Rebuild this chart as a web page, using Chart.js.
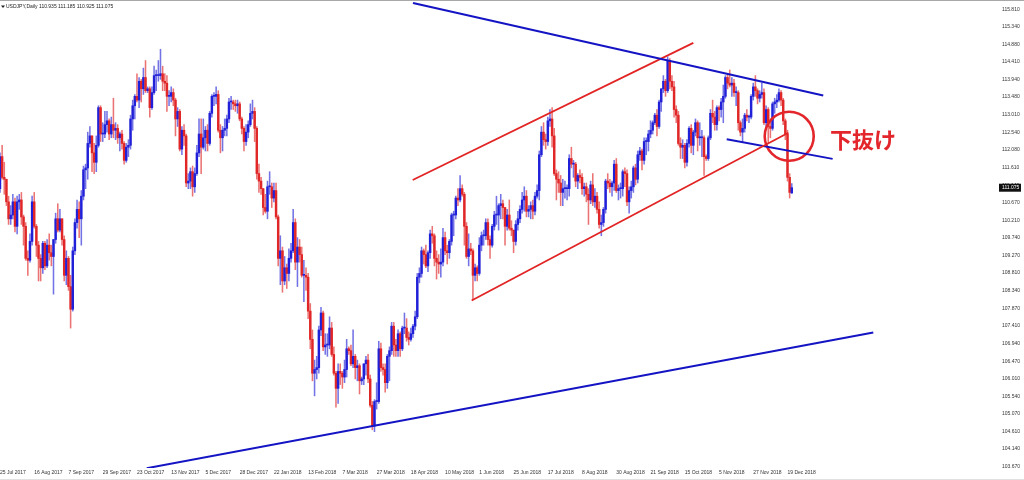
<!DOCTYPE html>
<html>
<head>
<meta charset="utf-8">
<script src="https://cdn.jsdelivr.net/npm/chart.js@4.4.1/dist/chart.umd.min.js"></script>
<style>
  html, body { margin: 0; padding: 0; background: #ffffff; overflow: hidden; }
  canvas { display: block; }
</style>
</head>
<body>
<canvas id="c" width="1024" height="480"></canvas>
<script>
// ---------- DATA (USDJPY daily) ----------
const symbolTitle = 'USDJPY,Daily';
const tickLabels = ['25 Jul 2017','16 Aug 2017','7 Sep 2017','29 Sep 2017','23 Oct 2017','13 Nov 2017','5 Dec 2017','28 Dec 2017','22 Jan 2018','13 Feb 2018','7 Mar 2018','27 Mar 2018','18 Apr 2018','10 May 2018','1 Jun 2018','25 Jun 2018','17 Jul 2018','8 Aug 2018','30 Aug 2018','21 Sep 2018','15 Oct 2018','5 Nov 2018','27 Nov 2018','19 Dec 2018'];
const barsPerLabel = 16;
const priceTicks = [115.810,115.340,114.880,114.410,113.940,113.480,113.010,112.540,112.080,111.610,111.140,110.670,110.210,109.740,109.270,108.810,108.340,107.870,107.410,106.940,106.470,106.010,105.540,105.070,104.610,104.140,103.670];

const opens = [
111.05,111.90,111.35,111.30,110.70,110.25,110.35,110.70,110.05,110.70,
110.75,110.30,110.05,109.20,109.15,109.65,110.70,110.05,109.55,109.20,
108.95,109.60,109.00,109.55,109.35,109.25,109.70,110.25,109.95,110.25,
109.70,108.75,109.20,108.45,107.85,109.40,110.15,110.50,110.25,110.85,
111.55,111.60,112.25,112.45,112.00,111.75,112.20,113.20,112.50,112.50,
112.75,112.85,112.50,112.75,112.60,112.65,112.40,112.50,112.25,111.80,
112.15,112.20,112.90,113.25,113.50,113.40,113.90,113.70,114.00,113.65,
113.70,113.20,113.60,114.05,114.05,114.05,114.10,113.90,113.85,113.50,
113.50,113.60,113.40,112.90,113.10,112.10,112.60,112.45,111.20,111.25,
111.50,111.10,111.45,112.00,112.50,112.15,112.40,112.60,112.25,113.05,
113.50,113.50,113.55,112.60,112.40,112.60,112.65,112.90,113.35,113.35,
113.30,113.25,113.30,112.90,112.65,112.30,112.55,112.75,113.05,113.10,
112.65,111.45,111.25,111.05,110.55,110.45,111.10,111.10,110.80,111.00,
110.30,109.20,109.40,108.60,108.95,108.80,109.20,109.40,110.15,109.10,
109.50,109.30,108.75,108.75,108.70,107.80,107.05,106.15,106.25,106.30,
107.30,107.75,106.85,106.90,106.90,107.35,106.65,106.15,105.75,106.20,
106.15,106.05,106.25,106.80,106.75,106.40,106.60,106.30,106.35,105.95,
106.00,106.40,106.50,106.00,105.30,104.75,105.40,105.40,106.80,106.30,
106.25,105.90,106.60,106.75,107.40,106.90,106.75,107.20,106.80,107.35,
107.35,107.10,107.05,107.20,107.40,107.65,108.70,108.80,109.40,109.30,
109.00,109.35,109.85,109.80,109.20,109.10,109.05,109.10,109.75,109.40,
109.35,109.65,110.35,110.35,110.80,110.75,111.05,110.90,110.05,109.25,
109.45,109.40,108.75,108.95,108.80,109.55,109.80,109.80,110.15,109.70,
109.55,110.05,110.35,110.35,110.60,110.65,110.55,110.05,110.35,110.00,
109.95,109.65,110.10,110.25,110.50,110.75,110.85,110.45,110.50,110.60,
110.45,110.85,111.00,111.95,112.55,112.35,112.30,112.85,112.90,112.45,
111.45,111.30,111.20,110.95,111.05,111.05,111.05,111.85,111.70,111.70,
111.25,111.40,111.35,111.05,111.10,110.90,110.75,111.15,110.70,110.85,
110.50,110.10,110.15,110.50,111.25,111.20,111.10,111.20,111.70,111.00,
111.05,111.05,111.50,111.45,110.70,111.00,111.10,111.60,111.30,111.95,
112.05,111.80,112.30,112.30,112.50,112.60,112.80,113.00,112.70,113.35,
113.70,113.90,113.65,114.45,113.90,113.75,113.15,113.00,112.25,112.15,
112.20,111.75,112.25,112.65,112.20,112.55,112.80,112.40,112.40,112.40,
111.90,111.85,112.40,113.05,112.95,112.75,113.20,113.15,113.35,113.50,
114.00,113.85,113.80,113.85,113.60,113.60,112.80,112.55,112.65,113.00,
112.95,112.95,113.50,113.75,113.65,113.45,113.55,113.60,112.80,113.15,
112.70,112.65,113.30,113.35,113.40,113.60,113.40,112.85,112.50,111.35,
110.935];

const highs = [
112.00,112.20,111.75,111.30,110.85,110.60,110.90,110.80,110.85,110.90,
110.95,110.35,110.15,109.40,109.85,110.85,110.95,110.10,109.65,109.30,
109.65,109.65,109.70,109.85,109.55,109.70,110.40,110.65,110.50,110.25,
109.80,109.40,109.25,108.75,109.50,110.25,110.75,110.70,111.00,111.65,
111.70,112.55,112.70,112.45,112.25,112.45,113.25,113.25,112.80,113.10,
113.10,112.90,112.95,113.45,112.80,112.75,112.55,112.60,112.30,112.25,
112.35,113.00,113.40,113.55,114.10,114.00,113.95,114.25,114.45,113.75,
113.75,113.75,114.30,114.20,114.45,114.75,114.30,114.10,114.05,113.65,
113.75,113.70,113.45,113.20,113.15,112.70,112.75,112.50,111.45,111.60,
111.65,111.60,112.20,112.90,112.90,112.90,112.70,112.75,113.10,113.55,
113.60,113.75,113.65,112.75,112.70,112.90,113.00,113.45,113.50,113.40,
113.40,113.40,113.35,112.95,112.70,112.75,112.85,113.30,113.40,113.20,
112.70,111.70,111.35,111.05,110.90,111.25,111.50,111.20,111.20,111.20,
110.35,109.80,109.50,109.25,109.05,109.45,109.60,110.50,110.25,109.75,
109.70,109.50,109.15,108.95,108.80,108.00,107.30,106.50,106.60,107.40,
107.90,107.80,107.20,107.20,107.65,107.50,106.85,106.20,106.40,106.40,
106.20,106.50,107.05,106.85,106.90,107.30,106.65,106.50,106.40,106.05,
106.40,106.60,106.65,106.10,105.40,105.45,105.90,107.00,106.95,106.40,
106.40,106.65,106.85,107.50,107.50,107.05,107.30,107.25,107.40,107.75,
107.60,107.25,107.35,107.45,107.80,108.80,108.95,109.50,109.45,109.55,
109.40,109.95,110.05,109.85,109.40,109.30,109.45,110.00,109.90,109.55,
109.70,110.40,110.45,110.85,111.05,111.40,111.15,110.95,110.15,109.85,
109.60,109.45,109.05,109.00,109.75,109.90,109.95,110.25,110.25,109.80,
110.10,110.45,110.85,110.65,110.90,110.75,110.55,110.50,110.75,110.20,
109.95,110.20,110.45,110.60,110.95,111.10,111.00,110.60,110.70,110.75,
110.95,111.15,112.05,112.70,112.80,112.50,112.95,113.15,113.20,112.65,
111.55,111.50,111.40,111.30,111.25,111.15,111.95,112.15,111.80,111.75,
111.45,111.55,111.45,111.20,111.20,111.05,111.25,111.45,111.05,110.95,
110.70,110.35,110.55,111.30,111.45,111.30,111.25,111.80,111.85,111.15,
111.20,111.55,111.60,111.55,111.10,111.25,111.65,111.70,112.05,112.15,
112.10,112.40,112.40,112.60,112.85,112.85,113.05,113.15,113.40,113.70,
114.05,113.95,114.55,114.50,114.05,113.90,113.25,113.10,112.40,112.35,
112.25,112.35,112.70,112.75,112.60,112.90,112.85,112.80,112.60,112.45,
111.95,112.45,113.15,113.40,113.10,113.25,113.25,113.45,113.80,114.05,
114.10,114.20,114.00,113.95,113.75,113.65,112.85,112.90,113.05,113.15,
113.00,113.55,113.85,114.05,113.70,113.65,113.85,113.70,113.25,113.20,
112.90,113.35,113.45,113.55,113.70,113.65,113.45,112.90,112.60,111.45,
111.185];

const lows = [
110.95,111.30,110.90,110.60,110.10,110.10,110.25,109.90,109.85,110.50,
110.10,109.55,109.15,108.75,109.10,109.55,110.00,109.25,108.60,108.60,
108.80,108.90,108.95,109.15,109.00,108.25,109.60,109.90,109.90,109.55,
108.60,108.50,108.35,107.35,107.80,109.30,110.00,109.75,109.55,110.75,
111.05,111.30,112.15,111.50,111.45,111.50,112.15,112.30,112.30,112.40,
112.55,112.35,112.40,112.40,112.35,112.25,112.05,112.10,111.70,111.75,
111.90,112.10,112.60,112.90,113.35,113.20,113.35,113.55,113.60,113.60,
112.95,113.15,113.55,113.65,113.90,113.95,113.65,113.65,113.10,113.25,
113.35,113.25,112.45,112.70,112.05,111.95,112.20,111.10,111.05,111.05,
110.85,110.95,111.40,111.90,111.45,112.10,112.05,112.05,112.20,112.95,
113.25,113.30,112.55,112.00,112.05,112.45,112.45,112.80,113.15,113.15,
113.10,113.05,112.85,112.50,112.05,112.20,112.40,112.70,112.90,112.30,
111.30,110.95,110.90,110.35,110.40,110.25,110.90,110.55,110.70,110.25,
109.00,108.50,108.30,108.50,108.40,108.60,109.10,109.35,108.90,108.45,
109.10,108.70,108.05,108.35,107.60,106.80,105.95,105.55,106.00,106.15,
107.15,106.75,106.65,106.60,106.80,106.60,106.10,105.25,105.35,105.85,
105.75,105.90,106.05,106.65,106.35,106.30,106.00,105.95,105.60,105.85,
105.85,106.10,105.90,105.25,104.65,104.60,105.20,105.35,106.20,106.10,
105.65,105.75,105.95,106.65,106.60,106.60,106.60,106.60,106.75,107.20,
107.00,106.90,107.00,107.10,107.30,107.60,108.55,108.70,109.05,108.95,
108.85,109.20,109.60,109.00,108.65,108.80,108.70,109.00,109.30,109.05,
109.20,109.55,109.80,110.25,110.60,110.70,110.85,109.55,109.20,109.00,
109.30,108.10,108.60,108.60,108.75,109.40,109.55,109.70,109.55,109.20,
109.50,109.95,110.10,109.95,110.25,110.25,109.55,109.95,109.95,109.80,
109.35,109.55,109.95,110.15,110.40,110.45,110.30,110.30,110.25,110.25,
110.35,110.80,110.75,111.90,112.20,112.10,112.20,112.70,112.15,111.40,
110.75,110.95,110.60,110.60,110.80,110.75,110.85,111.60,111.35,111.10,
111.05,111.20,110.90,110.85,110.70,110.10,110.65,110.60,110.55,110.40,
110.00,109.80,110.05,110.40,111.05,110.95,110.85,111.00,110.95,110.75,
110.80,110.85,111.10,110.60,110.40,110.80,110.95,111.15,111.20,111.80,
111.55,111.70,111.95,112.05,112.40,112.50,112.75,112.45,112.65,113.10,
113.60,113.50,113.60,113.70,113.65,112.95,112.80,112.20,111.85,111.85,
111.60,111.65,112.15,112.00,111.95,112.45,112.05,112.20,111.90,111.40,
111.80,111.80,112.35,112.80,112.60,112.60,112.85,112.95,112.80,113.45,
113.70,113.75,113.50,113.50,113.25,112.60,112.45,112.30,112.55,112.85,
112.80,112.90,113.40,113.50,113.30,113.35,113.45,112.75,112.70,112.25,
112.40,112.60,113.05,113.20,113.35,113.25,112.75,112.35,111.25,110.80,
110.925];

const closes = [
111.90,111.35,111.30,110.70,110.25,110.35,110.70,110.05,110.70,110.75,
110.30,110.05,109.20,109.15,109.65,110.70,110.05,109.55,109.20,108.95,
109.60,109.00,109.55,109.35,109.25,109.70,110.25,109.95,110.25,109.70,
108.75,109.20,108.45,107.85,109.40,110.15,110.50,110.25,110.85,111.55,
111.60,112.25,112.45,112.00,111.75,112.20,113.20,112.50,112.50,112.75,
112.85,112.50,112.75,112.60,112.65,112.40,112.50,112.25,111.80,112.15,
112.20,112.90,113.25,113.50,113.40,113.90,113.70,114.00,113.65,113.70,
113.20,113.60,114.05,114.05,114.05,114.10,113.90,113.85,113.50,113.50,
113.60,113.40,112.90,113.10,112.10,112.60,112.45,111.20,111.25,111.50,
111.10,111.45,112.00,112.50,112.15,112.40,112.60,112.25,113.05,113.50,
113.50,113.55,112.60,112.40,112.60,112.65,112.90,113.35,113.35,113.30,
113.25,113.30,112.90,112.65,112.30,112.55,112.75,113.05,113.10,112.65,
111.45,111.25,111.05,110.55,110.45,111.10,111.10,110.80,111.00,110.30,
109.20,109.40,108.60,108.95,108.80,109.20,109.40,110.15,109.10,109.50,
109.30,108.75,108.75,108.70,107.80,107.05,106.15,106.25,106.30,107.30,
107.75,106.85,106.90,106.90,107.35,106.65,106.15,105.75,106.20,106.15,
106.05,106.25,106.80,106.75,106.40,106.60,106.30,106.35,105.95,106.00,
106.40,106.50,106.00,105.30,104.75,105.40,105.40,106.80,106.30,106.25,
105.90,106.60,106.75,107.40,106.90,106.75,107.20,106.80,107.35,107.35,
107.10,107.05,107.20,107.40,107.65,108.70,108.80,109.40,109.30,109.00,
109.35,109.85,109.80,109.20,109.10,109.05,109.10,109.75,109.40,109.35,
109.65,110.35,110.35,110.80,110.75,111.05,110.90,110.05,109.25,109.45,
109.40,108.75,108.95,108.80,109.55,109.80,109.80,110.15,109.70,109.55,
110.05,110.35,110.35,110.60,110.65,110.55,110.05,110.35,110.00,109.95,
109.65,110.10,110.25,110.50,110.75,110.85,110.45,110.50,110.60,110.45,
110.85,111.00,111.95,112.55,112.35,112.30,112.85,112.90,112.45,111.45,
111.30,111.20,110.95,111.05,111.05,111.05,111.85,111.70,111.70,111.25,
111.40,111.35,111.05,111.10,110.90,110.75,111.15,110.70,110.85,110.50,
110.10,110.15,110.50,111.25,111.20,111.10,111.20,111.70,111.00,111.05,
111.05,111.50,111.45,110.70,111.00,111.10,111.60,111.30,111.95,112.05,
111.80,112.30,112.30,112.50,112.60,112.80,113.00,112.70,113.35,113.70,
113.90,113.65,114.45,113.90,113.75,113.15,113.00,112.25,112.15,112.20,
111.75,112.25,112.65,112.20,112.55,112.80,112.40,112.40,112.40,111.90,
111.85,112.40,113.05,112.95,112.75,113.20,113.15,113.35,113.50,114.00,
113.85,113.80,113.85,113.60,113.60,112.80,112.55,112.65,113.00,112.95,
112.95,113.50,113.75,113.65,113.45,113.55,113.60,112.80,113.15,112.70,
112.65,113.30,113.35,113.40,113.60,113.40,112.85,112.50,111.35,110.95,
111.075];

// Trend lines drawn on the chart: [barIndex, price] pairs
const upperBlueLine  = [[193.0, 115.98], [384.7, 113.52]];
const upperRedLine   = [[192.85, 111.28], [324.0, 114.92]];
const lowerRedLine   = [[220.4, 108.08], [368.4, 112.535]];
const shortBlueLine  = [[339.6, 112.36], [389.1, 111.84]];
const longBlueLine   = [[68.55, 103.63], [408.1, 107.23]];
const breakCircle    = [368.8, 112.44];
const noteText = '下抜け';
const notePos = [387.9, 112.36];

// ---------- CHECK ----------
[opens, highs, lows, closes].forEach((a, k) => {
  if (a.length !== 371) throw new Error('array ' + k + ' length ' + a.length);
});

// ---------- STYLE ----------
const BULL = '#2020d8', BEAR = '#e02626';
const BULL_W = 'rgba(40,40,215,0.65)', BEAR_W = 'rgba(225,40,40,0.65)';
const LINE_BLUE = '#1414c4', LINE_RED = '#e22424', MARK_RED = '#e3262b';
const FONT = '"Liberation Sans", Arial, sans-serif';
Chart.defaults.font.family = FONT;

const idx = closes.map((_, i) => i);
const isBull = i => closes[i] >= opens[i];
const pts = arr => arr.map(p => ({ x: p[0], y: p[1] }));

const overlay = {
  id: 'overlay',
  beforeDraw(chart) {
    const { ctx, width, height } = chart;
    ctx.save();
    ctx.fillStyle = '#ffffff';
    ctx.fillRect(0, 0, width, height);
    ctx.restore();
  },
  afterDraw(chart) {
    const { ctx, scales: { x, y } } = chart;
    ctx.save();
    // frame lines
    ctx.fillStyle = '#a8a8a8';
    ctx.fillRect(0, 0, chart.width, 1);
    ctx.fillStyle = '#e0e0e0';
    ctx.fillRect(0, chart.height - 1, chart.width, 1);
    // header
    ctx.fillStyle = '#222';
    ctx.beginPath();
    ctx.moveTo(1, 5.5); ctx.lineTo(5, 5.5); ctx.lineTo(3, 8); ctx.closePath(); ctx.fill();
    ctx.font = '5px ' + FONT;
    ctx.textBaseline = 'middle';
    ctx.textAlign = 'left';
    const n = closes.length - 1;
    const hdr = symbolTitle + ' ' + [opens[n], highs[n], lows[n], closes[n]].map(v => v.toFixed(3)).join(' ');
    ctx.fillText(hdr, 6, 6.8);
    // current price box
    const py = y.getPixelForValue(closes[n]);
    ctx.fillStyle = '#111';
    ctx.fillRect(999, py - 4, 22, 8);
    ctx.fillStyle = '#ffffff';
    ctx.fillText(closes[n].toFixed(3), 1002, py);
    // note text
    ctx.fillStyle = MARK_RED;
    ctx.font = 'bold 22px "Noto Sans CJK JP", sans-serif';
    ctx.fillText(noteText, x.getPixelForValue(notePos[0]), y.getPixelForValue(notePos[1]));
    ctx.restore();
  }
};

const lineDs = (data, color, w) => ({
  type: 'line', data: pts(data), borderColor: color, borderWidth: w,
  pointRadius: 0, pointHoverRadius: 0, tension: 0, fill: false, order: 0
});

new Chart(document.getElementById('c'), {
  type: 'bar',
  data: {
    datasets: [
      lineDs(upperBlueLine, LINE_BLUE, 2),
      lineDs(upperRedLine, LINE_RED, 1.8),
      lineDs(lowerRedLine, LINE_RED, 1.8),
      lineDs(shortBlueLine, LINE_BLUE, 2),
      lineDs(longBlueLine, LINE_BLUE, 2),
      {
        type: 'scatter', data: [{ x: breakCircle[0], y: breakCircle[1] }],
        pointRadius: 24.5, pointHoverRadius: 24.5, pointBorderWidth: 2.6,
        pointBackgroundColor: 'rgba(0,0,0,0)', pointBorderColor: MARK_RED, order: 0
      },
      {
        type: 'bar', data: idx.map(i => ({ x: i, y: [opens[i], closes[i]] })),
        backgroundColor: idx.map(i => isBull(i) ? BULL : BEAR),
        barThickness: 1.8, minBarLength: 1, grouped: false, order: 1
      },
      {
        type: 'bar', data: idx.map(i => ({ x: i, y: [lows[i], highs[i]] })),
        backgroundColor: idx.map(i => isBull(i) ? BULL_W : BEAR_W),
        barThickness: 0.9, grouped: false, order: 2
      }
    ]
  },
  options: {
    responsive: false,
    animation: false,
    events: [],
    layout: { padding: 0, autoPadding: false },
    plugins: { legend: { display: false }, tooltip: { enabled: false }, title: { display: false } },
    scales: {
      x: {
        type: 'linear', position: 'bottom', offset: false,
        min: 0, max: 465.9,
        grid: { display: false, drawTicks: false }, border: { display: false },
        ticks: {
          autoSkip: false, maxRotation: 0, minRotation: 0, align: 'start', padding: 2,
          color: '#333', font: { size: 5 },
          callback: v => tickLabels[Math.round(v / barsPerLabel)]
        },
        afterBuildTicks: s => { s.ticks = tickLabels.map((_, k) => ({ value: k * barsPerLabel })); },
        afterFit: s => { s.height = 12; s.paddingLeft = 0; s.paddingRight = 0; }
      },
      y: {
        type: 'linear', position: 'right',
        min: 103.636, max: 116.057,
        grid: { display: false, drawTicks: false }, border: { display: false },
        ticks: {
          autoSkip: false, padding: 5, color: '#333', font: { size: 5 },
          callback: v => Number(v).toFixed(3)
        },
        afterBuildTicks: s => { s.ticks = priceTicks.map(v => ({ value: v })); },
        afterFit: s => { s.width = 27; s.paddingTop = 0; s.paddingBottom = 0; }
      }
    }
  },
  plugins: [overlay]
});
</script>
</body>
</html>
